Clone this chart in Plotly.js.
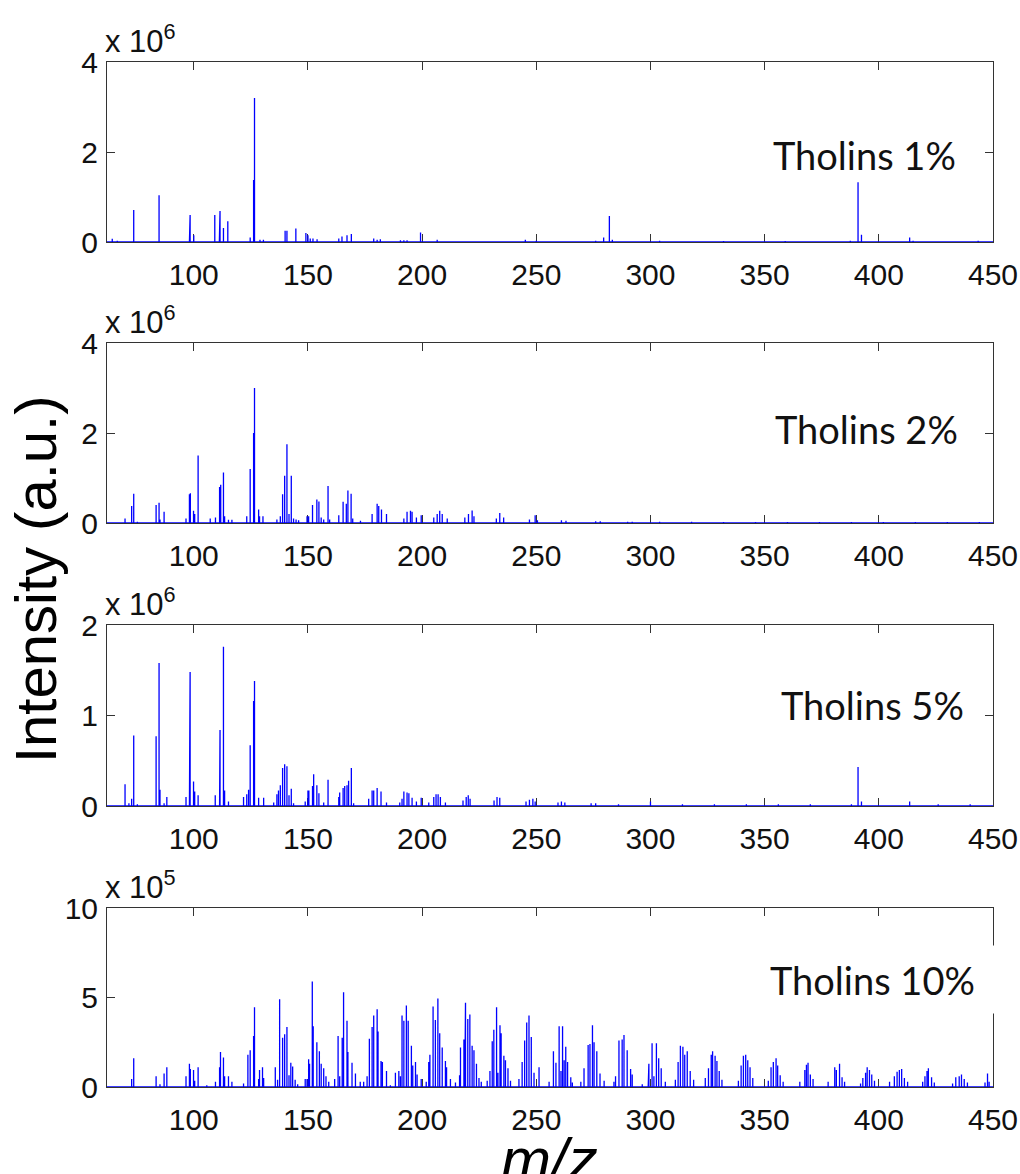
<!DOCTYPE html>
<html>
<head>
<meta charset="utf-8">
<script src="https://cdn.plot.ly/plotly-3.0.1.min.js"></script>
<style>html,body{margin:0;padding:0;background:#fff;}#chart{width:1020px;height:1174px;}</style>
</head>
<body>
<div id="chart"></div>
<script>
// ---------- DATA ----------
const xRange = [62, 450];
const xTickVals = [100, 150, 200, 250, 300, 350, 400, 450];
const panelLabels = ["Tholins 1%", "Tholins 2%", "Tholins 5%", "Tholins 10%"];
const panelExponents = [6, 6, 6, 5];
const yRanges = [[0, 4], [0, 4], [0, 2], [0, 10]];
const yTicks1 = [0, 2, 4];
const yTicks2 = [0, 2, 4];
const yTicks3 = [0, 1, 2];
const yTicks4 = [0, 5, 10];

// Tholins 1% (intensity x 10^6)
const mz1 = [64.3, 66.5, 73.7, 84.8, 98.1, 98.4, 100, 109.2, 111.2, 111.5, 113, 114.9, 124.7, 126.2, 126.6, 129, 130.5,
  140, 140.8, 144.7, 149.1, 150, 151, 152.2, 154, 163.5, 164.9, 167.1, 169, 178.8, 180.3, 181.7, 190.5, 192, 193.4,
  199.3, 206.6, 245.2, 250, 276, 279.5, 282, 283.3, 304, 332, 359, 387.5, 390.9, 392.4, 413.5, 415, 443.5];
const int1 = [0.07, 0.03, 0.71, 1.04, 0.2, 0.6, 0.15, 0.6, 0.15, 0.69, 0.31, 0.46, 0.1, 1.38, 3.2, 0.05, 0.05,
  0.25, 0.25, 0.3, 0.2, 0.15, 0.08, 0.08, 0.06, 0.08, 0.12, 0.15, 0.18, 0.08, 0.05, 0.06, 0.04, 0.04, 0.04,
  0.21, 0.05, 0.05, 0.03, 0.03, 0.1, 0.58, 0.05, 0.03, 0.02, 0.02, 0.03, 1.33, 0.16, 0.1, 0.03, 0.03];

// Tholins 2% (intensity x 10^6)
const mz2 = [69.9, 72.8, 73.7, 75.3, 83.5, 84.8, 85.2, 87, 96.6, 98.1, 98.5, 99.9, 100.4, 101.9, 107.2, 109.5, 111.3, 111.8,
  113, 113.5, 115.2, 116.7, 123.2, 124.7, 126.2, 126.6, 128.4, 128.8, 130.3, 136.4, 137.9, 138.9, 139.8, 140.8, 141.7,
  142.7, 143.7, 144.8, 145.9, 149.6, 150.3, 152, 153.9, 154.8, 155.8, 156.9, 158.8, 159.5, 163.5, 165.4, 166.8, 167.5,
  168.9, 169.6, 173, 178.1, 180.3, 181, 182.2, 184.4, 192, 193.4, 194.9, 195.6, 197.5, 199.6, 205.1, 206.6, 207.7,
  208.8, 211, 218.7, 220.3, 221.9, 222.7, 232.5, 234, 235.7, 247, 249.5, 250.5, 261, 263, 276, 278, 290, 292, 304, 318,
  332, 346, 360, 374, 388, 402, 416, 430, 444];
const int2 = [0.1, 0.38, 0.65, 0.03, 0.4, 0.45, 0.08, 0.25, 0.1, 0.64, 0.66, 0.27, 0.2, 1.5, 0.1, 0.12, 0.8, 0.85,
  1.12, 0.15, 0.07, 0.07, 0.15, 1.2, 2.0, 3.0, 0.3, 0.15, 0.15, 0.08, 0.15, 0.64, 1.05, 1.75, 0.2,
  1.05, 0.1, 0.08, 0.06, 0.15, 0.15, 0.4, 0.52, 0.48, 0.12, 0.08, 0.82, 0.08, 0.17, 0.47, 0.43, 0.72,
  0.65, 0.1, 0.05, 0.2, 0.43, 0.38, 0.3, 0.2, 0.1, 0.25, 0.27, 0.25, 0.12, 0.17, 0.12, 0.2, 0.27,
  0.2, 0.1, 0.12, 0.2, 0.28, 0.15, 0.1, 0.22, 0.12, 0.08, 0.17, 0.06, 0.06, 0.05, 0.04, 0.04, 0.03, 0.03, 0.03, 0.03,
  0.02, 0.02, 0.02, 0.02, 0.02, 0.02, 0.02, 0.02, 0.02];

// Tholins 5% (intensity x 10^6)
const mz3 = [69.9, 71.6, 72.8, 73.7, 75.3, 83.5, 84.8, 85.2, 87, 88.2, 96.6, 98.1, 98.4, 99.9, 100.4, 101.9, 109.4, 111.3,
  111.5, 113, 113.5, 115.2, 121.8, 123.2, 124, 124.7, 126.2, 126.6, 128.4, 130.6, 135, 136.4, 137.1, 137.9, 138.9, 139.8,
  140.8, 141.7, 142.7, 143.7, 148.8, 150, 150.4, 152, 152.5, 153.9, 154.8, 156.9, 158.8, 163.5, 163.9, 165.4, 166.1,
  167.1, 167.8, 169, 170, 176.6, 178.1, 178.8, 180.3, 182, 184.4, 190.2, 191.2, 192, 193.4, 194.2, 195.6, 197.5, 199.6,
  202.9, 205.1, 206.1, 207, 208, 210.2, 217.9, 219.3, 220.2, 221, 231.5, 232.8, 234, 245.5, 247, 248.5, 249.5, 259.5,
  261, 262.5, 274, 276, 286, 300, 314, 328, 342, 356, 370, 388, 390.9, 392.4, 413.5, 426, 440];
const int3 = [0.24, 0.03, 0.08, 0.78, 0.02, 0.77, 1.58, 0.18, 0.03, 0.1, 0.1, 1.1, 1.48, 0.27, 0.16, 0.12, 0.12, 0.45,
  0.84, 1.76, 0.17, 0.05, 0.1, 0.13, 0.18, 0.67, 1.16, 1.38, 0.09, 0.09, 0.04, 0.13, 0.17, 0.23, 0.42, 0.46,
  0.44, 0.12, 0.19, 0.03, 0.05, 0.17, 0.17, 0.22, 0.35, 0.23, 0.14, 0.04, 0.29, 0.1, 0.15, 0.2, 0.22,
  0.23, 0.28, 0.42, 0.03, 0.08, 0.17, 0.17, 0.2, 0.16, 0.04, 0.04, 0.08, 0.16, 0.15, 0.14, 0.09, 0.05, 0.09,
  0.04, 0.1, 0.13, 0.13, 0.1, 0.04, 0.06, 0.1, 0.12, 0.08, 0.06, 0.1, 0.09, 0.05, 0.07, 0.08, 0.05, 0.04,
  0.05, 0.04, 0.03, 0.03, 0.02, 0.05, 0.02, 0.02, 0.02, 0.02, 0.02, 0.02, 0.43, 0.05, 0.05, 0.02, 0.02];

// Tholins 10% (intensity x 10^5)
const mz4 = [72.8, 73.7, 83.5, 85.2, 87, 88.2, 96.6, 98.1, 98.5, 99.9, 100.4, 101.9, 105.7, 109.5, 111.3, 111.7, 113, 113.5,
  115.2, 116.7, 121.8, 123.7, 124.7, 126.2, 126.6, 128.4, 128.8, 130.1, 130.6, 135.7, 136.7, 137.6, 138.9, 139.8, 140.8,
  141.7, 142.5, 143.3, 144.4, 145.5, 148.8, 149.6, 150.3, 150.7, 151.9, 152.3, 153.9, 155, 155.8, 156.9, 157.9, 159.1,
  161.7, 163.2, 163.9, 165, 165.6, 167.1, 167.5, 169.3, 170.8, 172.9, 174.4, 175.9, 176.9, 178.1, 178.8, 180.3, 180.7,
  182, 182.6, 184.4, 186.1, 188.3, 189.8, 190.5, 191.2, 192, 193.1, 193.9, 195.3, 195.9, 197.1, 197.8, 199.6, 201.8,
  202.9, 203.4, 204.8, 205.8, 206.9, 207.7, 208.8, 210.2, 210.7, 212.4, 214.6, 216.4, 216.8, 218.3, 218.7, 219, 220,
  220.9, 221.9, 222.7, 223.8, 224.9, 225.9, 228.5, 229.7, 230.7, 231.4, 232.6, 233.2, 234.1, 234.6, 235.8, 236.5, 237.6,
  238.7, 242.4, 243.8, 244.9, 245.8, 246.8, 247.8, 249, 251.2, 255.6, 257.5, 258.6, 260, 260.8, 261.5, 262.2, 262.9,
  263.7, 265.1, 265.8, 269.5, 270.9, 272.7, 273.5, 274.6, 275.3, 276.5, 277.9, 279.7, 284, 284.7, 286.2, 287.6, 288.4,
  289.8, 291.3, 292, 296.4, 299, 299.3, 300.7, 301.5, 302.6, 303.6, 304.7, 306.5, 310.9, 312.1, 313.1, 314.2, 315,
  316.1, 317.4, 318.9, 324, 325.4, 326.6, 327.2, 328.3, 329.1, 330.1, 331.3, 338.5, 339.7, 340.7, 341.7, 342.6, 343.6,
  344.8, 351.6, 352.8, 353.8, 355, 355.7, 356.8, 358.1, 365.4, 367.6, 368.3, 369, 370, 371.2, 377.8, 380.7, 381.4,
  382.8, 383.9, 385, 392, 393, 394.2, 394.9, 395.9, 396.9, 398.1, 404.7, 406.8, 408, 409, 410, 411.2, 412.6, 419.2,
  420.2, 421.1, 421.7, 423.1, 424.3, 432.3, 433.7, 435.2, 436.2, 437.4, 438.8, 446.5, 447.6, 448.3];
const int4 = [0.45, 1.6, 0.6, 0.15, 0.75, 1.1, 0.6, 1.3, 1.0, 0.95, 0.35, 1.1, 0.1, 0.3, 1.1, 1.95, 1.65, 0.6,
  0.6, 0.3, 0.2, 1.8, 2.05, 2.85, 4.45, 0.45, 0.95, 1.1, 0.5, 1.1, 0.4, 4.9, 2.75, 2.95, 3.35,
  0.65, 1.35, 1.15, 0.4, 0.15, 0.45, 0.45, 1.55, 1.3, 5.9, 3.4, 2.5, 2.0, 1.3, 1.05, 0.6, 0.3,
  0.45, 2.85, 0.6, 2.75, 5.3, 3.7, 1.95, 1.35, 0.75, 0.3, 0.3, 0.6, 2.7, 3.35, 4.0, 4.35, 3.1,
  1.45, 1.4, 0.9, 0.1, 0.8, 0.9, 0.6, 4.0, 3.7, 4.55, 3.7, 2.3, 1.2, 1.4, 0.7, 0.45, 0.3,
  1.4, 1.8, 4.5, 3.75, 4.95, 3.0, 2.2, 1.45, 1.1, 0.45, 0.25, 0.65, 2.2, 2.65, 1.75, 4.7, 3.8,
  4.05, 2.3, 2.05, 1.3, 0.5, 0.3, 0.35, 0.9, 2.55, 3.2, 4.45, 0.8, 3.45, 3.0, 1.75, 1.5, 1.05,
  0.35, 0.45, 1.4, 2.6, 3.6, 4.0, 2.8, 0.8, 1.1, 0.3, 2.0, 1.35, 3.4, 0.9, 3.4, 1.5, 2.25,
  1.4, 0.55, 0.25, 0.3, 1.05, 2.35, 2.4, 3.45, 2.5, 2.0, 0.75, 0.35, 0.3, 0.6, 2.6, 2.65, 2.9,
  2.05, 1.0, 0.7, 0.15, 0.55, 1.3, 2.45, 0.6, 2.45, 1.6, 1.05, 0.3, 0.4, 1.4, 2.3, 2.25, 1.8,
  2.0, 0.9, 0.4, 0.5, 1.05, 1.8, 2.0, 1.75, 1.45, 0.9, 0.4, 0.35, 1.2, 1.75, 1.8, 1.5, 1.1,
  0.5, 0.35, 1.1, 1.4, 1.6, 1.2, 0.65, 0.3, 0.3, 0.95, 1.25, 1.35, 0.7, 0.45, 0.3, 1.1, 0.95,
  1.3, 0.55, 0.3, 0.2, 0.5, 0.8, 1.1, 0.95, 0.7, 0.35, 0.3, 0.6, 0.85, 0.95, 1.0, 0.5, 0.3, 0.3,
  0.6, 0.9, 1.05, 0.55, 0.25, 0.2, 0.55, 0.6, 0.7, 0.45, 0.25, 0.25, 0.75, 0.3];

// ---------- BUILD ----------
function stickSpectrum(mz, inten) {
  const idx = mz.map((m, i) => i).sort((a, b) => mz[a] - mz[b]);
  const x = [xRange[0]], y = [0];
  idx.forEach(i => { x.push(mz[i], mz[i], mz[i]); y.push(0, inten[i], 0); });
  x.push(xRange[1]); y.push(0);
  return { x, y };
}

const series = [[mz1, int1], [mz2, int2], [mz3, int3], [mz4, int4]];
const yTickSets = [yTicks1, yTicks2, yTicks3, yTicks4];

// pixel layout of plot areas
const W = 1020, H = 1174;
const mL = 107, mR = 27, mT = 62, mB = 87;
const plotH = H - mT - mB;
const panelPx = [[62, 242], [343, 523], [625, 806], [908, 1087]];
const toDom = (top, bot) => [Math.max(0, (H - mB - bot) / plotH), Math.min(1, (H - mB - top) / plotH)];

const traces = [];
const layout = {
  width: W, height: H,
  margin: { l: mL, r: mR, t: mT, b: mB, pad: 0 },
  paper_bgcolor: '#fff', plot_bgcolor: '#fff',
  showlegend: false,
  font: { family: 'Liberation Sans, Arial, sans-serif', color: '#000' },
  annotations: []
};

const tickFont = { family: 'Liberation Sans, Arial, sans-serif', size: 30, color: '#111' };
const labFont = { family: 'Lato, Open Sans, sans-serif', size: 38, color: '#111' };

series.forEach((s, k) => {
  const n = k + 1;
  const xa = 'x' + (n === 1 ? '' : n), ya = 'y' + (n === 1 ? '' : n);
  const xk = 'xaxis' + (n === 1 ? '' : n), yk = 'yaxis' + (n === 1 ? '' : n);
  const d = stickSpectrum(s[0], s[1]);
  traces.push({
    type: 'scatter', mode: 'lines', x: d.x, y: d.y, xaxis: xa, yaxis: ya,
    line: { color: '#0000ff', width: 1.3 }, hoverinfo: 'skip'
  });
  layout[xk] = {
    domain: [0, 1], anchor: ya, range: xRange, tickvals: xTickVals,
    ticktext: xTickVals.map(String),
    ticks: 'inside', ticklen: 8, tickwidth: 1, tickcolor: '#333',
    showline: true, linecolor: '#333', linewidth: 1, mirror: 'ticks',
    showgrid: false, zeroline: false, tickfont: tickFont, layer: 'below traces',
    ticklabelstandoff: 6
  };
  layout[yk] = {
    domain: toDom(panelPx[k][0], panelPx[k][1]), anchor: xa, range: yRanges[k],
    tickvals: yTickSets[k], ticktext: yTickSets[k].map(String),
    ticks: 'inside', ticklen: 8, tickwidth: 1, tickcolor: '#333',
    showline: true, linecolor: '#333', linewidth: 1, mirror: 'ticks',
    showgrid: false, zeroline: false, tickfont: tickFont, ticklabelstandoff: 2
  };
  // exponent label
  layout.annotations.push({
    xref: 'paper', yref: ya + ' domain', x: 0, y: 1, xanchor: 'left', yanchor: 'bottom',
    yshift: 1, xshift: -4,
    text: 'x 10<sup>' + panelExponents[k] + '</sup>', showarrow: false,
    font: { family: 'Liberation Sans, Arial, sans-serif', size: 31, color: '#111' }
  });
});

// panel labels
const labPos = [[958, 0.484], [960, 0.52], [966, 0.56], [975, 0.60]];
labPos.forEach((p, k) => {
  const n = k + 1;
  const ya = 'y' + (n === 1 ? '' : n);
  const a = {
    xref: 'paper', yref: ya + ' domain', x: (p[0] - mL) / (W - mL - mR), y: p[1],
    xanchor: 'right', yanchor: 'middle', text: panelLabels[k], showarrow: false, font: labFont,
    bgcolor: 'rgba(255,255,255,0)'
  };
  if (k === 3) {
    a.x = (997 - mL) / (W - mL - mR);
    a.width = 226; a.height = 67; a.align = 'left'; a.borderpad = 0; a.bgcolor = '#fff';
  }
  layout.annotations.push(a);
});

// axis titles
layout.annotations.push({
  xref: 'paper', yref: 'paper', x: (35 - mL) / (W - mL - mR), y: (H - mB - 580) / plotH,
  xanchor: 'center', yanchor: 'middle', textangle: -90, text: 'Intensity (a.u.)', showarrow: false,
  font: { family: 'Liberation Sans, Arial, sans-serif', size: 58, color: '#000' }
});
layout.annotations.push({
  xref: 'paper', yref: 'paper', x: (549 - mL) / (W - mL - mR), y: (H - mB - 1124) / plotH,
  xanchor: 'center', yanchor: 'top', text: '<i>m/z</i>', showarrow: false,
  font: { family: 'Liberation Sans, Arial, sans-serif', size: 60, color: '#000' }
});

Plotly.newPlot('chart', traces, layout, { staticPlot: true, displayModeBar: false });
</script>
</body>
</html>
